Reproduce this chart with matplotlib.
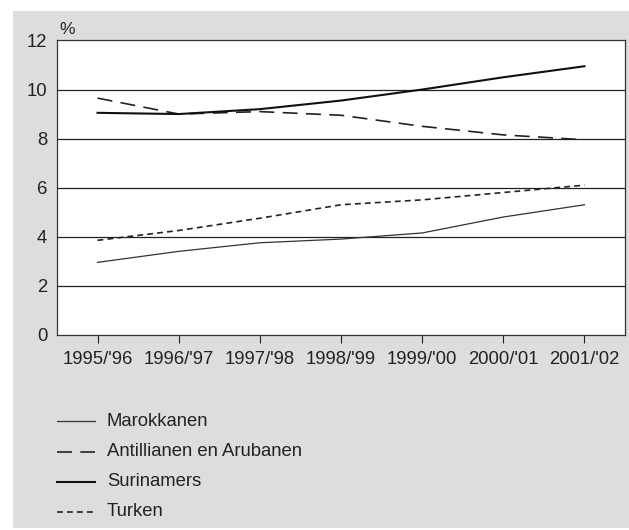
import matplotlib
matplotlib.use("Agg")
import matplotlib.pyplot as plt
from matplotlib.patches import Rectangle
from matplotlib.lines import Line2D

plt.rcParams['font.family'] = ['Liberation Sans', 'DejaVu Sans']

years = ["1995/'96", "1996/'97", "1997/'98", "1998/'99", "1999/'00", "2000/'01", "2001/'02"]
marokkanen = [2.95, 3.4, 3.75, 3.9, 4.15, 4.8, 5.3]
antillianen = [9.65, 9.0, 9.1, 8.95, 8.5, 8.15, 7.95]
surinamers = [9.05, 9.0, 9.2, 9.55, 10.0, 10.5, 10.95]
turken = [3.85, 4.25, 4.75, 5.3, 5.5, 5.8, 6.1]
series_names = ["Marokkanen", "Antillianen en Arubanen", "Surinamers", "Turken"]
yticks = [0, 2, 4, 6, 8, 10, 12]

W, H = 629, 530
fig = plt.figure(figsize=(W / 100, H / 100), dpi=100)
fig.patch.set_facecolor('white')
fig.add_artist(Rectangle((13 / W, 1 - 528 / H), (W - 13) / W, (528 - 11) / H,
                         transform=fig.transFigure, facecolor='#dcdddf',
                         edgecolor='none', zorder=0))

ax = fig.add_axes([57 / W, 1 - 334.7 / H, (625 - 57) / W, (334.7 - 40.5) / H])
ax.set_facecolor('white')
x = list(range(len(years)))
styles = [
    (marokkanen, dict(color='#333333', lw=0.9, ls='-')),
    (antillianen, dict(color='#222222', lw=1.2, ls=(0, (9, 5)))),
    (surinamers, dict(color='#111111', lw=1.5, ls='-')),
    (turken, dict(color='#222222', lw=1.2, ls=(0, (3.5, 2.5)))),
]
for data, st in styles:
    ax.plot(x, data, zorder=3, **st)

ax.set_ylim(0, 12)
ax.set_xlim(-0.5, 6.5)
ax.set_yticks(yticks)
ax.set_xticks(x)
ax.set_xticklabels(years)
for y in yticks[1:-1]:
    ax.axhline(y, color='#222222', lw=0.9, zorder=2)
for s in ax.spines.values():
    s.set_color('#333333')
    s.set_linewidth(0.9)
ax.tick_params(axis='y', length=0, pad=7, labelsize=13.3, colors='#222222')
ax.tick_params(axis='x', length=6, width=0.8, direction='out', pad=6, labelsize=13.3, colors='#222222')
ax.text(59 / W, 1 - 34 / H, '%', transform=fig.transFigure, fontsize=12.5,
        color='#222222', ha='left', va='baseline')

# Legend
leg_y = [421, 452, 482, 512]
for (data, st), name, yy in zip(styles, series_names, leg_y):
    fy = 1 - yy / H
    fig.add_artist(Line2D([57 / W, 95 / W], [fy, fy], transform=fig.transFigure, **st))
    fig.text(107 / W, fy, name, fontsize=13.3, color='#222222', va='center', ha='left')

fig.savefig('out.png', dpi=100)
